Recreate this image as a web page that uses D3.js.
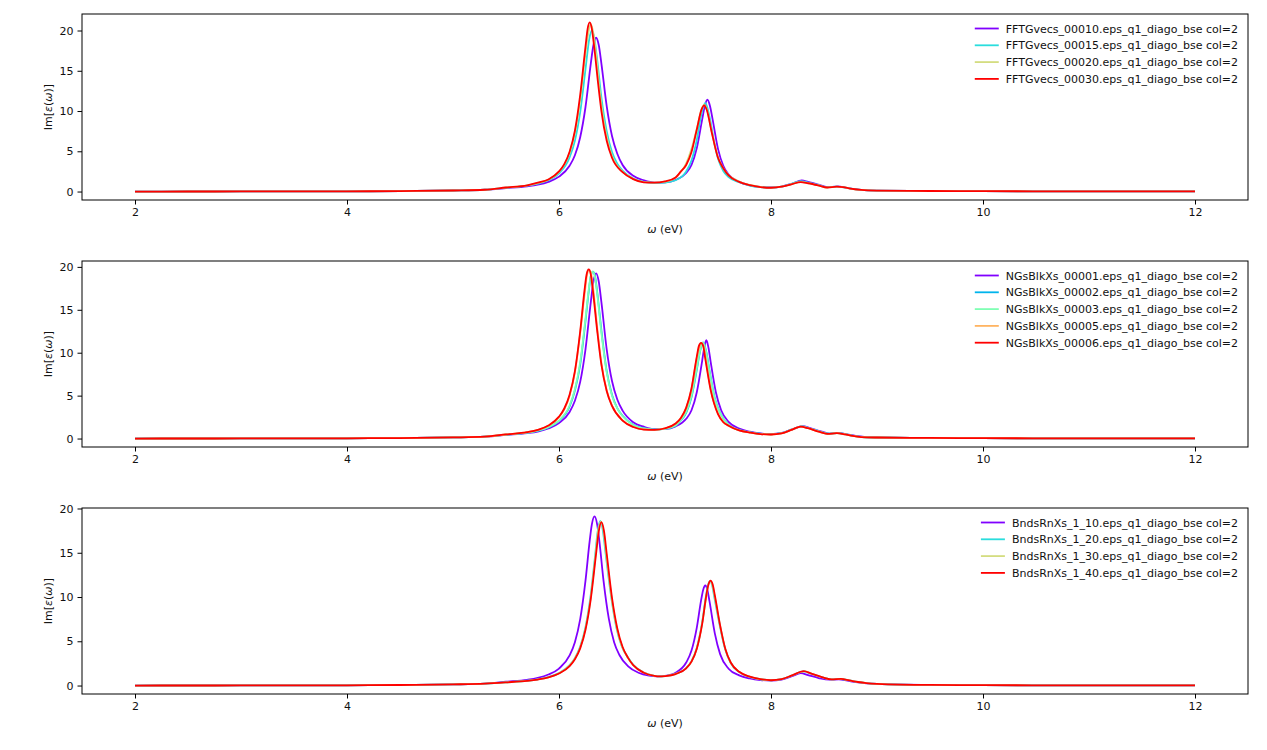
<!DOCTYPE html>
<html>
<head>
<meta charset="utf-8">
<script src="https://cdn.jsdelivr.net/npm/d3@7"></script>
<style>
  body { margin: 0; background: #fff; }
  text { font-family: "DejaVu Sans", sans-serif; }
</style>
</head>
<body>
<div id="grafico"></div>
<script>
// ---- data: [omega (eV), Im eps] ----
var tailLo = [[2.0,0.0],[2.5,0.005],[3.0,0.01],[3.5,0.02],[4.0,0.03],[4.5,0.06],[5.0,0.13],[5.3,0.22]];
var tailHi = [[9.5,0.07],[10,0.045],[11,0.02],[12,0.01]];

// panel 1 : FFTGvecs
var fft10 = [[5.5,0.42],[5.7,0.65],[5.8,0.85],[5.9,1.2],[6.0,1.85],[6.1,3.2],[6.15,4.5],[6.2,6.75],[6.25,10.5],[6.3,15.9],[6.325,18.2],[6.35,19.1],[6.375,18.2],[6.4,15.9],[6.45,10.6],[6.5,6.9],[6.55,4.7],[6.6,3.3],[6.7,1.95],[6.8,1.4],[6.9,1.12],[7.0,1.15],[7.1,1.45],[7.2,2.3],[7.25,3.3],[7.3,5.4],[7.35,8.9],[7.375,10.6],[7.4,11.4],[7.425,10.6],[7.45,8.9],[7.5,5.3],[7.55,3.2],[7.6,2.1],[7.7,1.2],[7.8,0.78],[7.9,0.57],[8.0,0.5],[8.1,0.62],[8.2,1.0],[8.29,1.38],[8.35,1.2],[8.45,0.85],[8.53,0.55],[8.63,0.63],[8.7,0.5],[8.77,0.32],[8.85,0.2],[9.0,0.12]];
var fft15 = [[5.5,0.47],[5.7,0.74],[5.8,0.98],[5.9,1.4],[6.0,2.25],[6.1,4.25],[6.15,6.3],[6.2,9.85],[6.25,15.2],[6.285,18.9],[6.31,20.0],[6.335,18.9],[6.36,16.4],[6.4,11.7],[6.45,7.5],[6.5,4.9],[6.55,3.45],[6.6,2.6],[6.7,1.6],[6.8,1.2],[6.9,1.08],[7.0,1.12],[7.1,1.4],[7.2,2.5],[7.25,3.85],[7.3,6.4],[7.34,9.4],[7.38,11.0],[7.42,9.3],[7.47,5.7],[7.5,4.1],[7.55,2.55],[7.6,1.8],[7.7,1.15],[7.8,0.75],[7.9,0.55],[8.0,0.48],[8.1,0.6],[8.2,0.97],[8.28,1.28],[8.35,1.12],[8.45,0.8],[8.53,0.52],[8.62,0.62],[8.7,0.5],[8.77,0.32],[8.85,0.2],[9.0,0.12]];
var fft20 = [[5.5,0.49],[5.7,0.76],[5.8,1.05],[5.9,1.48],[6.0,2.45],[6.05,3.35],[6.1,4.8],[6.15,7.3],[6.2,11.4],[6.25,17.2],[6.275,19.6],[6.3,20.8],[6.325,19.6],[6.35,17.0],[6.38,12.9],[6.42,8.9],[6.47,5.7],[6.5,4.4],[6.6,2.45],[6.7,1.58],[6.8,1.16],[6.9,1.1],[7.0,1.23],[7.1,1.72],[7.15,2.45],[7.2,3.5],[7.25,5.3],[7.3,7.8],[7.345,10.2],[7.37,10.8],[7.395,10.2],[7.44,7.5],[7.5,4.3],[7.55,2.9],[7.6,2.05],[7.7,1.25],[7.8,0.82],[7.9,0.57],[8.0,0.47],[8.1,0.6],[8.2,0.94],[8.28,1.2],[8.35,1.05],[8.45,0.76],[8.53,0.5],[8.62,0.6],[8.69,0.52],[8.76,0.34],[8.85,0.2],[9.0,0.12]];
var fft30 = [[5.5,0.5],[5.7,0.78],[5.8,1.1],[5.9,1.5],[6.0,2.5],[6.05,3.4],[6.1,4.95],[6.15,7.55],[6.2,12.0],[6.25,18.0],[6.27,20.2],[6.29,21.0],[6.31,20.2],[6.33,18.2],[6.37,13.3],[6.4,10.0],[6.45,6.3],[6.5,4.2],[6.6,2.4],[6.7,1.55],[6.8,1.15],[6.9,1.1],[7.0,1.25],[7.1,1.75],[7.15,2.5],[7.2,3.3],[7.25,4.9],[7.3,7.7],[7.345,10.2],[7.37,10.7],[7.395,10.1],[7.44,7.4],[7.5,4.2],[7.55,2.9],[7.6,2.0],[7.7,1.2],[7.8,0.8],[7.9,0.56],[8.0,0.47],[8.1,0.6],[8.2,0.93],[8.28,1.18],[8.35,1.03],[8.45,0.75],[8.53,0.5],[8.62,0.6],[8.68,0.55],[8.75,0.35],[8.85,0.2],[9.0,0.12]];

// panel 2 : NGsBlkXs
var ngs01 = [[5.5,0.42],[5.7,0.63],[5.8,0.82],[5.9,1.17],[6.0,1.8],[6.1,3.1],[6.15,4.4],[6.2,6.6],[6.25,10.4],[6.3,15.9],[6.325,18.3],[6.35,19.25],[6.375,18.3],[6.4,15.9],[6.45,10.4],[6.5,6.7],[6.55,4.55],[6.6,3.25],[6.7,1.9],[6.8,1.38],[6.9,1.1],[7.0,1.12],[7.1,1.42],[7.2,2.3],[7.25,3.3],[7.3,5.4],[7.35,9.0],[7.37,10.6],[7.39,11.45],[7.41,10.6],[7.43,9.0],[7.48,5.4],[7.53,3.3],[7.6,1.95],[7.7,1.15],[7.8,0.8],[7.9,0.6],[8.0,0.52],[8.1,0.65],[8.2,1.08],[8.3,1.45],[8.37,1.22],[8.47,0.85],[8.55,0.58],[8.64,0.66],[8.72,0.48],[8.8,0.3],[8.88,0.18],[9.0,0.12]];
var ngs02 = [[5.5,0.45],[5.7,0.68],[5.8,0.9],[5.9,1.3],[6.0,2.05],[6.1,3.75],[6.15,5.6],[6.2,8.6],[6.25,13.7],[6.28,17.1],[6.3,18.9],[6.32,19.45],[6.34,18.9],[6.36,17.1],[6.4,12.6],[6.45,7.85],[6.5,5.1],[6.55,3.55],[6.6,2.65],[6.7,1.6],[6.8,1.2],[6.9,1.05],[7.0,1.12],[7.1,1.5],[7.15,2.1],[7.2,3.0],[7.25,4.8],[7.3,8.0],[7.33,10.1],[7.36,11.2],[7.39,10.1],[7.42,7.9],[7.47,4.7],[7.52,3.0],[7.6,1.6],[7.7,1.0],[7.8,0.74],[7.9,0.56],[8.0,0.49],[8.1,0.62],[8.2,1.06],[8.29,1.42],[8.36,1.2],[8.46,0.82],[8.54,0.56],[8.63,0.64],[8.71,0.48],[8.78,0.3],[8.86,0.18],[9.0,0.12]];
var ngs03 = [[5.5,0.45],[5.7,0.69],[5.8,0.92],[5.9,1.32],[6.0,2.1],[6.1,3.85],[6.15,5.75],[6.2,8.9],[6.25,14.0],[6.28,17.3],[6.3,19.0],[6.318,19.45],[6.336,19.0],[6.36,16.9],[6.4,12.3],[6.45,7.7],[6.5,5.0],[6.55,3.5],[6.6,2.6],[6.7,1.58],[6.8,1.18],[6.9,1.05],[7.0,1.13],[7.1,1.52],[7.15,2.15],[7.2,3.1],[7.25,4.95],[7.3,8.2],[7.33,10.2],[7.358,11.2],[7.386,10.2],[7.42,7.8],[7.47,4.6],[7.52,2.95],[7.6,1.58],[7.7,0.99],[7.8,0.73],[7.9,0.55],[8.0,0.49],[8.1,0.62],[8.2,1.06],[8.29,1.41],[8.36,1.19],[8.46,0.81],[8.54,0.56],[8.63,0.64],[8.71,0.48],[8.78,0.3],[8.86,0.18],[9.0,0.12]];
var ngs05 = [[5.5,0.47],[5.7,0.74],[5.8,1.0],[5.9,1.5],[6.0,2.5],[6.05,3.4],[6.1,5.0],[6.15,7.7],[6.2,12.3],[6.245,17.2],[6.265,19.1],[6.285,19.65],[6.305,19.1],[6.325,17.2],[6.365,12.4],[6.4,8.8],[6.45,5.6],[6.5,3.85],[6.6,2.12],[6.7,1.37],[6.8,1.06],[6.9,1.02],[7.0,1.19],[7.1,1.73],[7.15,2.38],[7.2,3.55],[7.25,5.75],[7.3,9.4],[7.325,10.7],[7.345,11.15],[7.365,10.7],[7.385,9.2],[7.43,5.8],[7.5,2.9],[7.55,1.95],[7.6,1.5],[7.7,0.95],[7.8,0.7],[7.9,0.52],[8.0,0.47],[8.1,0.6],[8.2,1.05],[8.28,1.38],[8.35,1.2],[8.45,0.8],[8.53,0.55],[8.62,0.62],[8.7,0.48],[8.77,0.3],[8.85,0.17],[9.0,0.12]];
var ngs06 = [[5.5,0.48],[5.7,0.75],[5.8,1.02],[5.9,1.52],[6.0,2.55],[6.05,3.5],[6.1,5.1],[6.15,7.85],[6.2,12.5],[6.24,17.2],[6.26,19.1],[6.28,19.7],[6.3,19.1],[6.32,17.2],[6.36,12.6],[6.4,8.6],[6.45,5.55],[6.5,3.8],[6.6,2.1],[6.7,1.35],[6.8,1.05],[6.9,1.02],[7.0,1.2],[7.1,1.75],[7.15,2.4],[7.2,3.6],[7.25,5.85],[7.3,9.55],[7.32,10.8],[7.34,11.15],[7.36,10.8],[7.38,9.3],[7.43,5.7],[7.5,2.85],[7.55,1.9],[7.6,1.5],[7.7,0.95],[7.8,0.7],[7.9,0.52],[8.0,0.47],[8.1,0.6],[8.2,1.05],[8.28,1.38],[8.35,1.2],[8.45,0.8],[8.53,0.55],[8.62,0.62],[8.7,0.48],[8.77,0.3],[8.85,0.17],[9.0,0.12]];

// panel 3 : BndsRnXs
var bnd10 = [[5.5,0.43],[5.7,0.65],[5.8,0.87],[5.9,1.25],[6.0,1.92],[6.1,3.4],[6.15,4.9],[6.2,7.5],[6.25,11.85],[6.29,16.4],[6.31,18.2],[6.335,19.1],[6.36,18.2],[6.38,16.4],[6.42,11.85],[6.47,7.55],[6.52,4.9],[6.57,3.45],[6.65,2.2],[6.75,1.45],[6.85,1.12],[6.92,1.03],[7.0,1.1],[7.1,1.45],[7.2,2.6],[7.25,3.95],[7.3,6.55],[7.34,9.6],[7.36,10.8],[7.38,11.3],[7.4,10.8],[7.42,9.5],[7.47,5.9],[7.52,3.55],[7.6,1.9],[7.7,1.15],[7.8,0.8],[7.9,0.62],[8.0,0.56],[8.1,0.68],[8.2,1.05],[8.28,1.4],[8.35,1.18],[8.45,0.85],[8.55,0.66],[8.64,0.7],[8.72,0.55],[8.8,0.38],[8.9,0.25],[9.0,0.18]];
var bnd20 = [[5.5,0.37],[5.7,0.54],[5.8,0.7],[5.9,0.95],[6.0,1.4],[6.1,2.3],[6.15,3.1],[6.2,4.4],[6.25,6.6],[6.3,10.3],[6.34,14.6],[6.365,17.4],[6.39,18.6],[6.415,17.4],[6.44,14.9],[6.49,10.2],[6.54,6.6],[6.59,4.5],[6.65,3.2],[6.7,2.35],[6.8,1.47],[6.9,1.1],[6.95,1.03],[7.0,1.07],[7.1,1.32],[7.2,1.98],[7.25,2.75],[7.3,4.25],[7.35,7.1],[7.385,10.0],[7.405,11.3],[7.425,11.8],[7.445,11.3],[7.465,10.0],[7.515,6.9],[7.565,4.2],[7.62,2.55],[7.7,1.52],[7.8,0.98],[7.9,0.71],[8.0,0.6],[8.1,0.72],[8.2,1.14],[8.305,1.6],[8.38,1.34],[8.48,0.94],[8.57,0.7],[8.66,0.74],[8.74,0.58],[8.82,0.4],[8.9,0.28],[9.0,0.2]];
var bnd30 = [[5.5,0.36],[5.7,0.53],[5.8,0.69],[5.9,0.93],[6.0,1.38],[6.1,2.25],[6.15,3.05],[6.2,4.3],[6.25,6.45],[6.3,10.0],[6.345,14.8],[6.37,17.5],[6.395,18.5],[6.42,17.5],[6.445,14.9],[6.495,10.0],[6.545,6.5],[6.595,4.4],[6.65,3.15],[6.7,2.32],[6.8,1.46],[6.9,1.1],[6.95,1.03],[7.0,1.07],[7.1,1.31],[7.2,1.96],[7.25,2.72],[7.3,4.2],[7.35,7.0],[7.39,10.1],[7.41,11.4],[7.428,11.82],[7.446,11.4],[7.468,10.1],[7.518,6.85],[7.568,4.15],[7.62,2.58],[7.7,1.53],[7.8,0.99],[7.9,0.71],[8.0,0.6],[8.1,0.72],[8.2,1.15],[8.31,1.61],[8.38,1.35],[8.48,0.95],[8.57,0.7],[8.66,0.75],[8.74,0.58],[8.82,0.4],[8.9,0.28],[9.0,0.2]];
var bnd40 = [[5.5,0.36],[5.7,0.53],[5.8,0.68],[5.9,0.92],[6.0,1.36],[6.1,2.2],[6.15,2.98],[6.2,4.2],[6.25,6.3],[6.3,9.8],[6.35,14.9],[6.375,17.4],[6.4,18.45],[6.425,17.4],[6.45,14.9],[6.5,9.9],[6.55,6.45],[6.6,4.35],[6.65,3.15],[6.7,2.3],[6.8,1.45],[6.9,1.1],[6.95,1.03],[7.0,1.07],[7.1,1.3],[7.2,1.95],[7.25,2.7],[7.3,4.15],[7.35,6.9],[7.39,10.2],[7.41,11.4],[7.43,11.85],[7.45,11.4],[7.47,10.2],[7.52,6.8],[7.57,4.1],[7.62,2.6],[7.7,1.55],[7.8,1.0],[7.9,0.72],[8.0,0.6],[8.1,0.72],[8.2,1.15],[8.31,1.62],[8.38,1.35],[8.48,0.95],[8.57,0.7],[8.66,0.75],[8.74,0.58],[8.82,0.4],[8.9,0.28],[9.0,0.2]];

var labels1 = ["FFTGvecs_00010.eps_q1_diago_bse col=2","FFTGvecs_00015.eps_q1_diago_bse col=2","FFTGvecs_00020.eps_q1_diago_bse col=2","FFTGvecs_00030.eps_q1_diago_bse col=2"];
var labels2 = ["NGsBlkXs_00001.eps_q1_diago_bse col=2","NGsBlkXs_00002.eps_q1_diago_bse col=2","NGsBlkXs_00003.eps_q1_diago_bse col=2","NGsBlkXs_00005.eps_q1_diago_bse col=2","NGsBlkXs_00006.eps_q1_diago_bse col=2"];
var labels3 = ["BndsRnXs_1_10.eps_q1_diago_bse col=2","BndsRnXs_1_20.eps_q1_diago_bse col=2","BndsRnXs_1_30.eps_q1_diago_bse col=2","BndsRnXs_1_40.eps_q1_diago_bse col=2"];

var xTicks = [2, 4, 6, 8, 10, 12];
var yTicks = [0, 5, 10, 15, 20];

var panels = [
  {series: [fft10, fft15, fft20, fft30], labels: labels1},
  {series: [ngs01, ngs02, ngs03, ngs05, ngs06], labels: labels2},
  {series: [bnd10, bnd20, bnd30, bnd40], labels: labels3}
];

// matplotlib "rainbow" colormap
function rainbow(t) {
  var r = Math.min(1, Math.abs(2 * t - 0.5));
  var gg = Math.sin(Math.PI * t);
  var b = Math.max(0, Math.cos(Math.PI * t / 2));
  return d3.rgb(r * 255, gg * 255, b * 255).formatHex();
}

// ---- layout ----
var W = 1267, H = 750;
var axLeft = 82, axRight = 1248, axH = 186;
var axTops = [14, 261, 508];
var fs = "11px";

var svg = d3.select("#grafico").append("svg")
  .attr("width", W).attr("height", H);

panels.forEach(function(p, i) {
  var top = axTops[i];
  var w = axRight - axLeft;
  var g = svg.append("g").attr("transform", "translate(" + axLeft + "," + top + ")");

  var full = p.series.map(function(s) { return tailLo.concat(s, tailHi); });

  // matplotlib style 5% margins
  var xmin = 2, xmax = 12;
  var x = d3.scaleLinear().domain([xmin - 0.05*(xmax-xmin), xmax + 0.05*(xmax-xmin)]).range([0, w]);
  var ymax = d3.max(full, function(s) { return d3.max(s, function(d) { return d[1]; }); });
  var ymin = 0;
  var y = d3.scaleLinear().domain([ymin - 0.05*(ymax-ymin), ymax + 0.05*(ymax-ymin)]).range([axH, 0]);

  var colors = p.series.map(function(s, k) { return rainbow(k / (p.series.length - 1)); });

  var line = d3.line()
    .x(function(d) { return x(d[0]); })
    .y(function(d) { return y(d[1]); })
    .curve(d3.curveMonotoneX);

  full.forEach(function(s, k) {
    g.append("path")
      .datum(s)
      .attr("fill", "none")
      .attr("stroke", colors[k])
      .attr("stroke-width", 1.8)
      .attr("stroke-linejoin", "round")
      .attr("d", line);
  });

  // axes
  var xa = g.append("g").attr("transform", "translate(0," + axH + ")")
    .call(d3.axisBottom(x).tickValues(xTicks).tickSize(4.5).tickPadding(4).tickFormat(d3.format("d")));
  var ya = g.append("g")
    .call(d3.axisLeft(y).tickValues(yTicks).tickSize(4.5).tickPadding(4).tickFormat(d3.format("d")));
  [xa, ya].forEach(function(a) {
    a.select(".domain").remove();
    a.selectAll("line").attr("stroke", "#000").attr("stroke-width", 1);
    a.selectAll("text").attr("fill", "#111").style("font-size", fs).style("font-family", "DejaVu Sans");
  });

  // frame
  g.append("rect").attr("x", 0).attr("y", 0).attr("width", w).attr("height", axH)
    .attr("fill", "none").attr("stroke", "#000").attr("stroke-width", 1);

  // x label
  var xl = g.append("text")
    .attr("x", w / 2).attr("y", axH + 33)
    .attr("text-anchor", "middle")
    .style("font-size", fs).attr("fill", "#111");
  xl.append("tspan").style("font-style", "italic").text("\u03c9");
  xl.append("tspan").text(" (eV)");

  // y label
  var yl = g.append("text")
    .attr("transform", "translate(-30," + (axH / 2) + ") rotate(-90)")
    .attr("text-anchor", "middle")
    .style("font-size", fs).attr("fill", "#111");
  yl.append("tspan").text("Im[");
  yl.append("tspan").style("font-style", "italic").text("\u03b5");
  yl.append("tspan").text("(");
  yl.append("tspan").style("font-style", "italic").text("\u03c9");
  yl.append("tspan").text(")]");

  // legend
  var lg = g.append("g");
  var rowY = function(k) { return 14.5 + k * 16.8; };
  var texts = lg.selectAll("text.lab").data(p.labels).enter().append("text")
    .attr("class", "lab")
    .style("font-size", fs).attr("fill", "#111")
    .attr("y", function(d, k) { return rowY(k) + 4; })
    .text(function(d) { return d; });
  var maxW = 0;
  texts.each(function() { maxW = Math.max(maxW, this.getComputedTextLength()); });
  var tx = (w - 10) - maxW;
  texts.attr("x", tx);
  lg.selectAll("line.key").data(p.labels).enter().append("line")
    .attr("class", "key")
    .attr("x1", tx - 31).attr("x2", tx - 7)
    .attr("y1", function(d, k) { return rowY(k); })
    .attr("y2", function(d, k) { return rowY(k); })
    .attr("stroke", function(d, k) { return colors[k]; })
    .attr("stroke-width", 1.8);
});
</script>
</body>
</html>
